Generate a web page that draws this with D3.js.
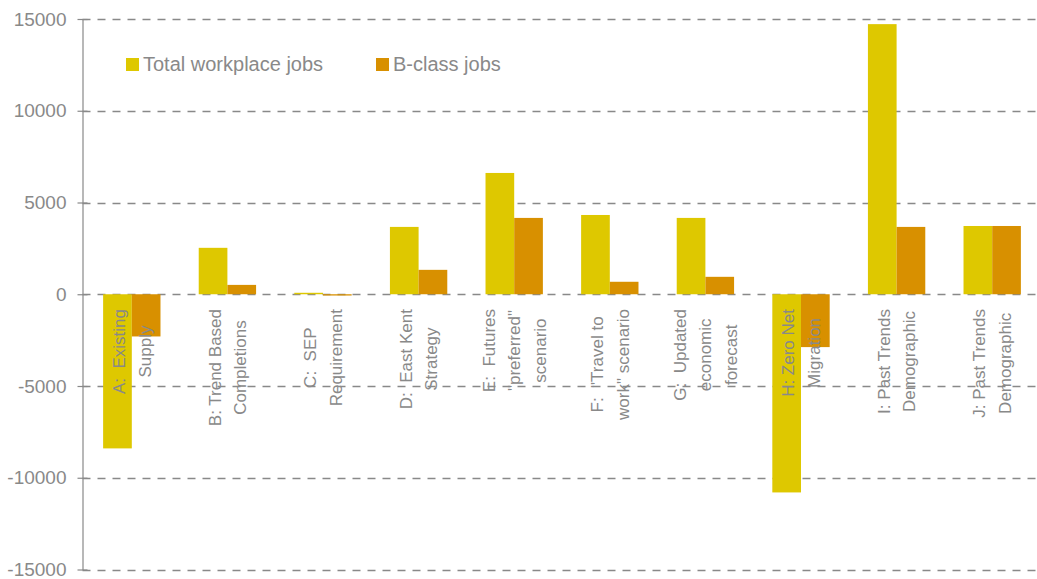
<!DOCTYPE html>
<html>
<head>
<meta charset="utf-8">
<script src="https://cdn.jsdelivr.net/npm/d3@7"></script>
<style>
  body { margin: 0; background: #fff; }
  svg { display: block; font-family: "Liberation Sans", Arial, sans-serif; }
  .cat tspan { white-space: pre; }
</style>
</head>
<body>
<div id="chart"></div>
<script>
// category labels, one entry per wrapped line
var categories = [
  ["A:  Existing", "Supply"],
  ["B: Trend Based", "Completions"],
  ["C:  SEP", "Requirement"],
  ["D:  East Kent", "Strategy"],
  ["E:  Futures", "\"preferred\"", "scenario"],
  ["F:  \"Travel to", "work\" scenario"],
  ["G:  Updated", "economic", "forecast"],
  ["H: Zero Net", "Migration"],
  ["I: Past Trends", "Demographic"],
  ["J: Past Trends", "Demographic"]
];
var seriesNames = ["Total workplace jobs", "B-class jobs"];
var totalJobs = [-8400, 2530, 80, 3670, 6610, 4320, 4160, -10800, 14720, 3720];
var bClassJobs = [-2300, 510, -70, 1330, 4160, 680, 950, -2880, 3670, 3720];
var yTicks = [-15000, -10000, -5000, 0, 5000, 10000, 15000];

var W = 1037, H = 579;
var colors = ["#dec800", "#d89000"];
var gray = "#898989";

var svg = d3.select("#chart").append("svg").attr("width", W).attr("height", H);

var x0 = d3.scaleBand()
  .domain(d3.range(categories.length))
  .range([84, 1040])
  .paddingInner(0.4)
  .paddingOuter(0.2);
var x1 = d3.scaleBand().domain([0, 1]).range([0, x0.bandwidth()]);
var y = d3.scaleLinear().domain([-15000, 15000]).range([569.5, 19]);

// dashed gridlines
svg.append("g").selectAll("line")
  .data(yTicks)
  .enter().append("line")
  .attr("x1", 82.5).attr("x2", W)
  .attr("y1", function (d) { return Math.round(y(d)) + 0.5; })
  .attr("y2", function (d) { return Math.round(y(d)) + 0.5; })
  .attr("stroke", gray).attr("stroke-width", 1.5)
  .attr("stroke-dasharray", "8,7");

// bars
var rows = totalJobs.map(function (v, i) { return [v, bClassJobs[i]]; });
var groups = svg.append("g").selectAll("g")
  .data(rows)
  .enter().append("g")
  .attr("transform", function (d, i) { return "translate(" + x0(i) + ",0)"; });
groups.selectAll("rect")
  .data(function (d) { return d; })
  .enter().append("rect")
  .attr("x", function (d, j) { return x1(j); })
  .attr("width", x1.bandwidth())
  .attr("y", function (d) { return y(Math.max(0, d)); })
  .attr("height", function (d) { return Math.abs(y(d) - y(0)); })
  .attr("fill", function (d, j) { return colors[j]; });

// left axis (plain hyphen for negatives, like the original)
var axis = svg.append("g").attr("transform", "translate(82.5,0)")
  .call(d3.axisLeft(y).tickValues(yTicks).tickSize(0).tickPadding(16)
    .tickFormat(function (d) { return String(d); }));
axis.select(".domain").attr("stroke", gray).attr("stroke-width", 1.2);
axis.selectAll(".tick text").attr("fill", gray).attr("font-size", "19px")
  .attr("font-family", "Liberation Sans, Arial, sans-serif");
axis.selectAll(".tick").append("line")
  .attr("x1", -5).attr("x2", 5).attr("stroke", gray).attr("stroke-width", 1.2);

// rotated category labels
var labels = svg.append("g").selectAll("text")
  .data(categories)
  .enter().append("text")
  .attr("class", "cat")
  .attr("fill", gray)
  .attr("font-size", "17px")
  .attr("text-anchor", "middle");
labels.each(function (lines, i) {
  var t = d3.select(this);
  var n = lines.length;
  lines.forEach(function (s, k) {
    t.append("tspan").attr("x", 0).attr("dy", k === 0 ? 0 : 25.5).text(s);
  });
  var maxLen = 0;
  t.selectAll("tspan").each(function () { maxLen = Math.max(maxLen, this.getComputedTextLength()); });
  var cx = x0(i) + x0.bandwidth() / 2 - (n - 1) * 25.5 / 2 + 6;
  var cy = 309 + maxLen / 2;
  t.attr("transform", "translate(" + cx + "," + cy + ") rotate(-90)");
});

// legend
var legend = svg.append("g").selectAll("g")
  .data(seriesNames)
  .enter().append("g")
  .attr("transform", function (d, i) { return "translate(" + (i === 0 ? 126 : 376) + ",58)"; });
legend.append("rect").attr("width", 13).attr("height", 13)
  .attr("fill", function (d, i) { return colors[i]; });
legend.append("text").attr("x", 17).attr("y", 13)
  .attr("fill", gray).attr("font-size", "20px")
  .text(function (d) { return d; });
</script>
</body>
</html>
